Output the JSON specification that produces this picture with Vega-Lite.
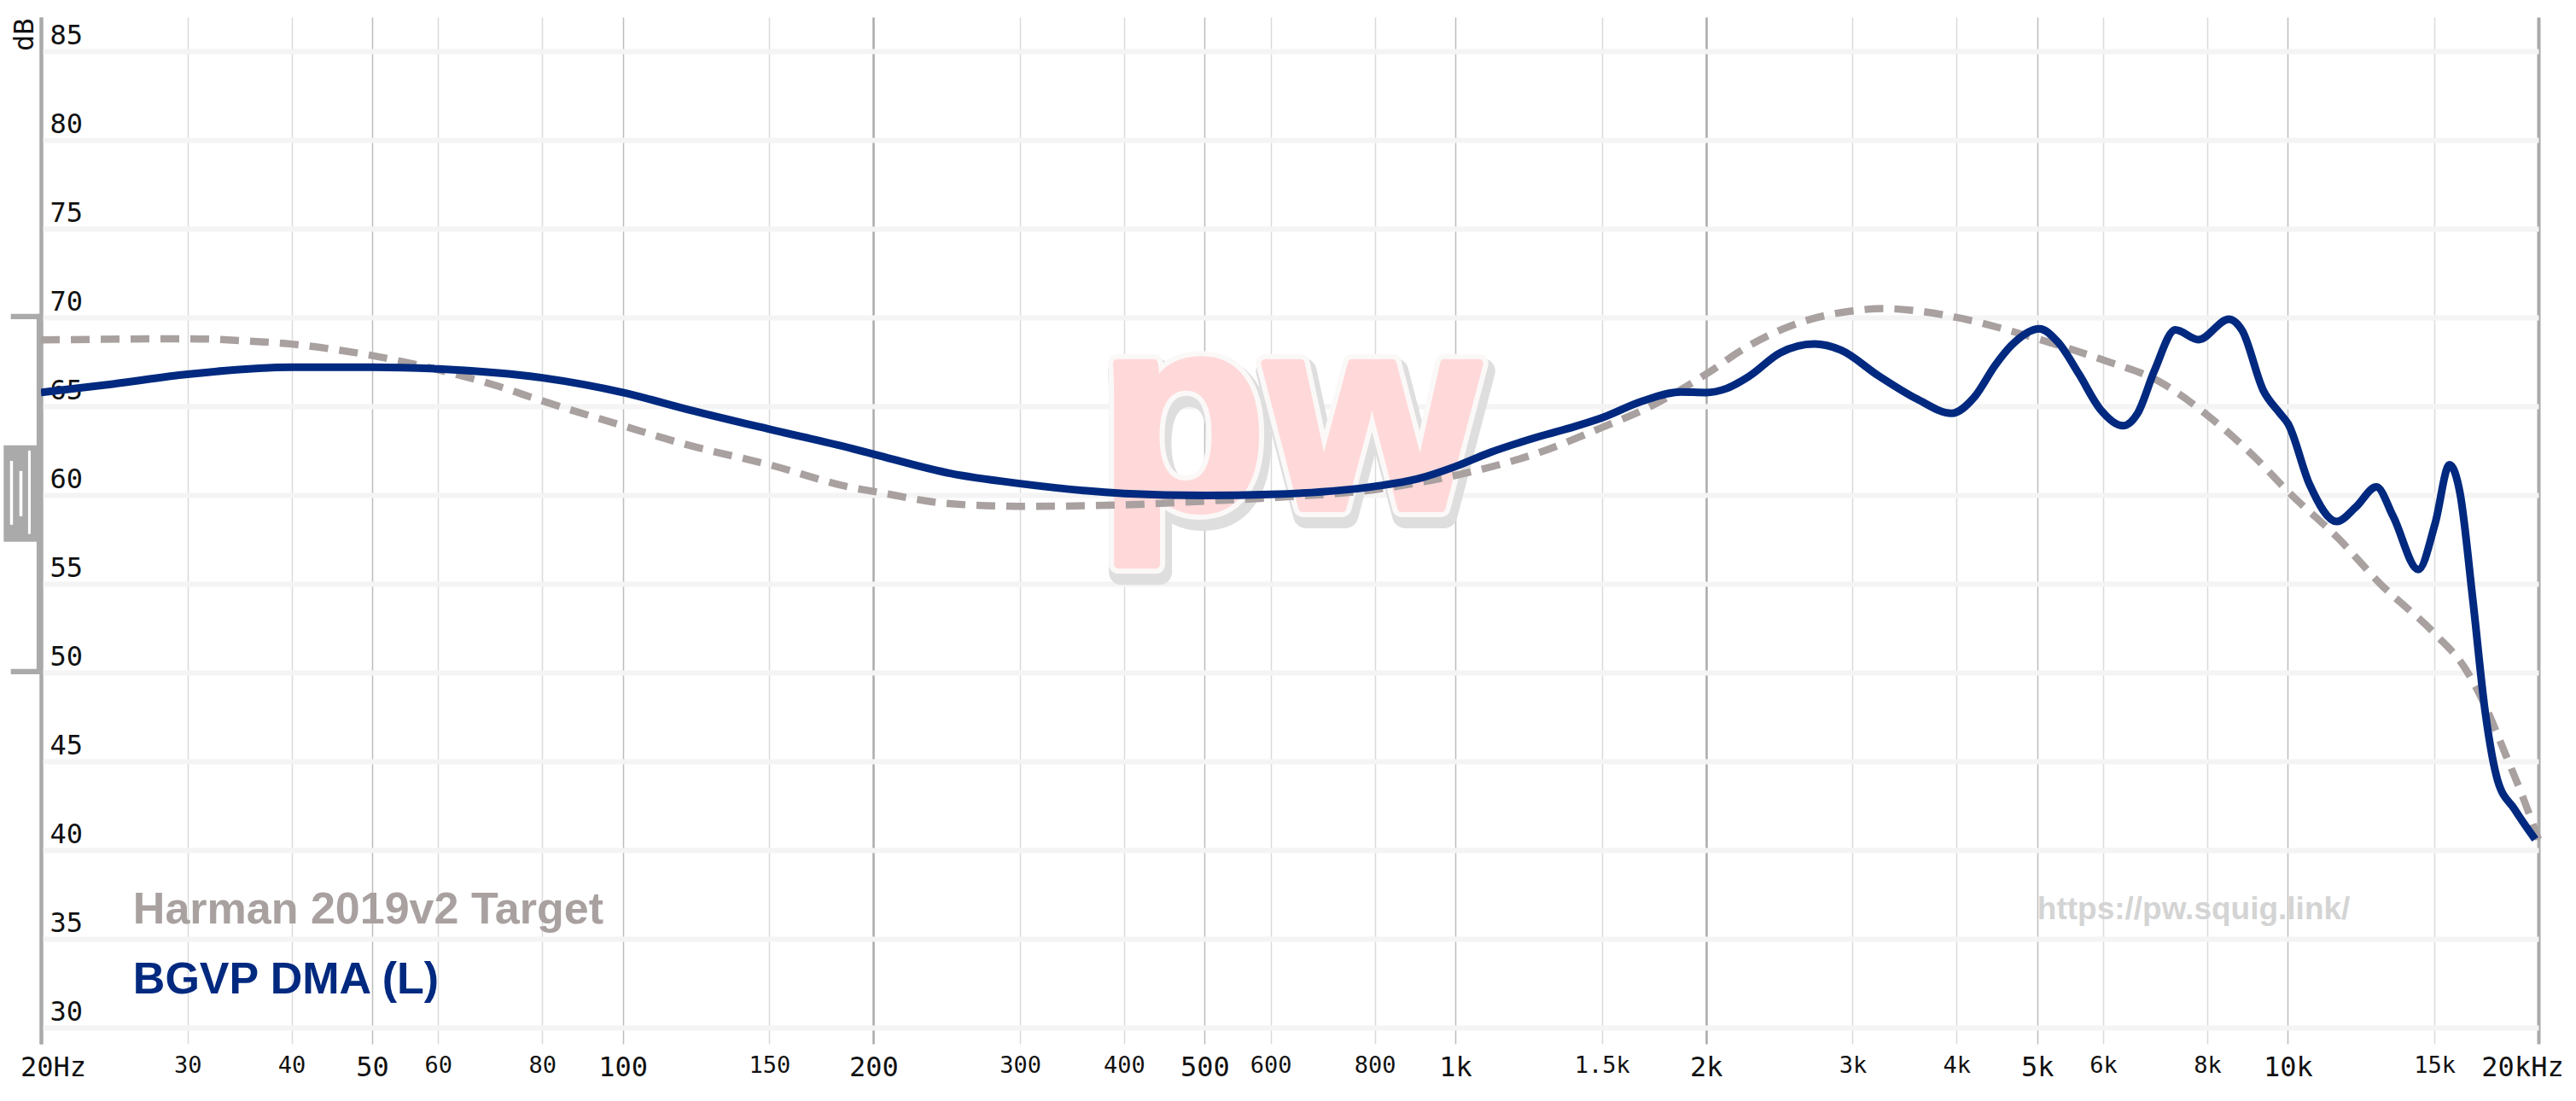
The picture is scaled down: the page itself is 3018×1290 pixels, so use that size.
{
  "$schema": "https://vega.github.io/schema/vega-lite/v6.json",
  "width": 2926,
  "height": 1203,
  "autosize": {"type": "none"},
  "padding": {"left": 48, "top": 20, "right": 44, "bottom": 67},
  "background": "white",
  "config": {"view": {"stroke": null}},
  "datasets": {
    "target": [
      {"f": 20, "db": 68.73}, {"f": 25, "db": 68.78}, {"f": 30, "db": 68.8}, {"f": 36, "db": 68.65},
      {"f": 40, "db": 68.5}, {"f": 45, "db": 68.2}, {"f": 50, "db": 67.85}, {"f": 60, "db": 67.05},
      {"f": 70, "db": 66.2}, {"f": 80, "db": 65.3}, {"f": 100, "db": 63.9}, {"f": 120, "db": 62.8},
      {"f": 150, "db": 61.7}, {"f": 189, "db": 60.4}, {"f": 200, "db": 60.2}, {"f": 248, "db": 59.5},
      {"f": 300, "db": 59.36}, {"f": 400, "db": 59.44}, {"f": 500, "db": 59.65}, {"f": 600, "db": 59.84},
      {"f": 800, "db": 60.3}, {"f": 1000, "db": 61.1}, {"f": 1263, "db": 62.4}, {"f": 1500, "db": 63.8},
      {"f": 1718, "db": 65.0}, {"f": 2000, "db": 66.8}, {"f": 2233, "db": 68.3}, {"f": 2613, "db": 69.76},
      {"f": 3000, "db": 70.37}, {"f": 3265, "db": 70.5}, {"f": 3586, "db": 70.37}, {"f": 4000, "db": 70.0},
      {"f": 5000, "db": 68.8}, {"f": 6000, "db": 67.6}, {"f": 7000, "db": 66.4}, {"f": 8000, "db": 64.5},
      {"f": 9140, "db": 62.1}, {"f": 10000, "db": 60.2}, {"f": 11500, "db": 57.55}, {"f": 12910, "db": 55.0},
      {"f": 15000, "db": 52.2}, {"f": 16290, "db": 50.3}, {"f": 17270, "db": 48.1}, {"f": 18290, "db": 45.3},
      {"f": 19150, "db": 43.0}, {"f": 20000, "db": 40.6}
    ],
    "measurement": [
      {"f": 20, "db": 65.77}, {"f": 24.4, "db": 66.25}, {"f": 30, "db": 66.8}, {"f": 40, "db": 67.2},
      {"f": 50, "db": 67.2}, {"f": 60, "db": 67.1}, {"f": 80, "db": 66.6}, {"f": 100, "db": 65.77},
      {"f": 120, "db": 64.8}, {"f": 150, "db": 63.7}, {"f": 189, "db": 62.6}, {"f": 200, "db": 62.3},
      {"f": 248, "db": 61.2}, {"f": 300, "db": 60.64}, {"f": 400, "db": 60.08}, {"f": 500, "db": 59.97},
      {"f": 600, "db": 60.03}, {"f": 800, "db": 60.48}, {"f": 900, "db": 60.9}, {"f": 1000, "db": 61.6},
      {"f": 1102, "db": 62.4}, {"f": 1263, "db": 63.3}, {"f": 1390, "db": 63.85}, {"f": 1500, "db": 64.35},
      {"f": 1680, "db": 65.3}, {"f": 1867, "db": 65.8}, {"f": 2000, "db": 65.77}, {"f": 2118, "db": 66.0},
      {"f": 2256, "db": 66.7}, {"f": 2455, "db": 68.0}, {"f": 2699, "db": 68.5}, {"f": 2904, "db": 68.16},
      {"f": 3226, "db": 66.7}, {"f": 3586, "db": 65.4}, {"f": 3945, "db": 64.6}, {"f": 4200, "db": 65.5},
      {"f": 4450, "db": 67.3}, {"f": 4650, "db": 68.4}, {"f": 5031, "db": 69.36}, {"f": 5297, "db": 68.6},
      {"f": 5613, "db": 66.8}, {"f": 5947, "db": 64.85}, {"f": 6339, "db": 63.9}, {"f": 6600, "db": 64.6},
      {"f": 6914, "db": 67.0}, {"f": 7326, "db": 69.3}, {"f": 7812, "db": 68.75}, {"f": 8495, "db": 69.9},
      {"f": 8816, "db": 69.25}, {"f": 9341, "db": 65.9}, {"f": 9784, "db": 64.6}, {"f": 10010, "db": 64.0},
      {"f": 10617, "db": 60.6}, {"f": 11450, "db": 58.5}, {"f": 12060, "db": 59.3}, {"f": 12776, "db": 60.45},
      {"f": 13380, "db": 58.8}, {"f": 14346, "db": 55.8}, {"f": 15030, "db": 58.4}, {"f": 15640, "db": 61.7},
      {"f": 16100, "db": 60.1}, {"f": 16680, "db": 54.1}, {"f": 17270, "db": 47.7}, {"f": 17870, "db": 43.9},
      {"f": 18720, "db": 42.3}, {"f": 19820, "db": 40.6}
    ],
    "bracket": [
      {"f": 18.40, "f2": 20, "db": 70.2, "db2": 69.9, "c": "#aaaaaa"},
      {"f": 19.76, "f2": 20, "db": 70.2, "db2": 49.9, "c": "#aaaaaa"},
      {"f": 18.04, "f2": 20, "db": 62.79, "db2": 57.36, "c": "#aaaaaa"},
      {"f": 18.40, "f2": 20, "db": 50.2, "db2": 49.9, "c": "#aaaaaa"},
      {"f": 18.36, "f2": 18.51, "db": 61.92, "db2": 58.32, "c": "#ffffff"},
      {"f": 18.84, "f2": 19.0, "db": 61.35, "db2": 58.8, "c": "#ffffff"},
      {"f": 19.30, "f2": 19.44, "db": 62.5, "db2": 57.8, "c": "#ffffff"}
    ]
  },
  "encoding": {
    "x": {
      "field": "f",
      "type": "quantitative",
      "scale": {"type": "log", "domain": [20, 20000], "nice": false},
      "axis": {
        "title": null,
        "values": [20, 30, 40, 50, 60, 80, 100, 150, 200, 300, 400, 500, 600, 800, 1000, 1500, 2000, 3000, 4000, 5000, 6000, 8000, 10000, 15000, 20000],
        "labelExpr": "datum.value == 20 ? '20Hz' : datum.value == 20000 ? '20kHz' : datum.value >= 1000 ? (datum.value / 1000) + 'k' : datum.value + ''",
        "labelFont": "DejaVu Sans Mono",
        "labelFontSize": {"condition": {"test": "indexof([20, 50, 100, 200, 500, 1000, 2000, 5000, 10000, 20000], datum.value) >= 0", "value": 32}, "value": 27},
        "labelColor": "#111111",
        "labelBaseline": "top",
        "labelPadding": 12,
        "labelFlush": false,
        "labelOverlap": false,
        "labelOffset": {"condition": [{"test": "datum.value == 20", "value": 14}, {"test": "datum.value == 20000", "value": -19}], "value": 0},
        "ticks": false,
        "tickSize": 0,
        "domain": false,
        "grid": true,
        "gridColor": {"condition": [{"test": "indexof([20, 200, 2000, 20000], datum.value) >= 0", "value": "#aaaaaa"}, {"test": "indexof([50, 100, 500, 1000, 5000, 10000], datum.value) >= 0", "value": "#bdbdbd"}], "value": "#dadada"},
        "gridWidth": {"condition": [{"test": "indexof([20, 20000], datum.value) >= 0", "value": 4}, {"test": "indexof([200, 2000], datum.value) >= 0", "value": 2.5}], "value": 1.5}
      }
    },
    "y": {
      "field": "db",
      "type": "quantitative",
      "scale": {"domain": [29.08, 86.92], "nice": false, "zero": false},
      "axis": {
        "title": "dB",
        "titleFont": "DejaVu Sans Mono",
        "titleFontSize": 32,
        "titleFontWeight": "normal",
        "titleColor": "#111111",
        "titleAngle": -90,
        "titleAlign": "right",
        "titleBaseline": "alphabetic",
        "titleX": -10,
        "titleY": 1,
        "values": [30, 35, 40, 45, 50, 55, 60, 65, 70, 75, 80, 85],
        "labelFont": "DejaVu Sans Mono",
        "labelFontSize": 32,
        "labelColor": "#111111",
        "labelAlign": "left",
        "labelBaseline": "alphabetic",
        "labelPadding": -10,
        "labelOffset": -8,
        "ticks": false,
        "tickSize": 0,
        "domainColor": "#aaaaaa",
        "domainWidth": 4,
        "grid": true,
        "gridColor": "#f4f4f4",
        "gridWidth": 6
      }
    }
  },
  "layer": [
    {
      "data": {"values": [{"f": 631, "db": 59.28, "t": "pw"}]},
      "layer": [
        {"mark": {"type": "text", "font": "Liberation Sans", "fontWeight": "bold", "fontSize": 320, "align": "center", "baseline": "alphabetic", "fill": "#dedede", "stroke": "#dedede", "strokeWidth": 30, "strokeJoin": "round", "dx": 4, "dy": 9}},
        {"mark": {"type": "text", "font": "Liberation Sans", "fontWeight": "bold", "fontSize": 320, "align": "center", "baseline": "alphabetic", "fill": "#fbf8f8", "stroke": "#fbf8f8", "strokeWidth": 22, "strokeJoin": "round"}},
        {"mark": {"type": "text", "font": "Liberation Sans", "fontWeight": "bold", "fontSize": 320, "align": "center", "baseline": "alphabetic", "fill": "#ffd9d9", "stroke": "#ffd9d9", "strokeWidth": 10, "strokeJoin": "round"}}
      ],
      "encoding": {"text": {"field": "t"}}
    },
    {
      "data": {"name": "target"},
      "mark": {"type": "line", "interpolate": "monotone", "color": "#a9a0a0", "strokeWidth": 8.5, "strokeDash": [22, 13]}
    },
    {
      "data": {"name": "measurement"},
      "mark": {"type": "line", "interpolate": "monotone", "color": "#00297f", "strokeWidth": 9}
    },
    {
      "data": {"values": [{"f": 25.8, "db": 35.87, "t": "Harman 2019v2 Target"}]},
      "mark": {"type": "text", "font": "Liberation Sans", "fontWeight": "bold", "fontSize": 52, "align": "left", "baseline": "alphabetic", "color": "#a9a0a0"},
      "encoding": {"text": {"field": "t"}}
    },
    {
      "data": {"values": [{"f": 25.8, "db": 31.9, "t": "BGVP DMA (L)"}]},
      "mark": {"type": "text", "font": "Liberation Sans", "fontWeight": "bold", "fontSize": 52, "align": "left", "baseline": "alphabetic", "color": "#00297f"},
      "encoding": {"text": {"field": "t"}}
    },
    {
      "data": {"values": [{"f": 5000, "db": 36.1, "t": "https://pw.squig.link/"}]},
      "mark": {"type": "text", "font": "Liberation Sans", "fontWeight": "bold", "fontSize": 37, "align": "left", "baseline": "alphabetic", "color": "#d4d4d4"},
      "encoding": {"text": {"field": "t"}}
    },
    {
      "data": {"name": "bracket"},
      "mark": {"type": "rect"},
      "encoding": {
        "x2": {"field": "f2"},
        "y2": {"field": "db2"},
        "color": {"field": "c", "type": "nominal", "scale": null}
      }
    }
  ]
}
